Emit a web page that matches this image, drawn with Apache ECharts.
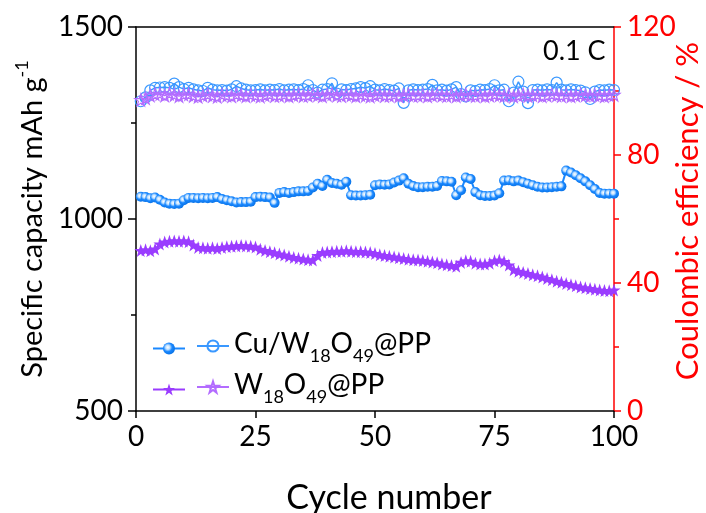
<!DOCTYPE html>
<html>
<head>
<meta charset="utf-8">
<script src="https://cdn.jsdelivr.net/npm/echarts@6/dist/echarts.min.js"></script>
<style>
html, body { margin: 0; padding: 0; background: #fff; }
#chart { width: 706px; height: 513px; }
</style>
</head>
<body>
<div id="chart"></div>
<script>
// capacity, mAh g-1, cycles 1..100
var cuCapacity = [
  1058, 1057, 1054, 1056, 1050, 1043, 1040, 1039, 1040, 1049,
  1055, 1055, 1054, 1055, 1054, 1055, 1057, 1052, 1049, 1046,
  1043, 1044, 1044, 1045, 1057, 1058, 1057, 1056, 1042, 1068,
  1070, 1068, 1070, 1072, 1072, 1073, 1082, 1092, 1086, 1102,
  1094, 1092, 1089, 1097, 1062, 1061, 1061, 1062, 1063, 1088,
  1090, 1089, 1090, 1095, 1100, 1106, 1092, 1086, 1083, 1083,
  1084, 1084, 1086, 1099, 1098, 1097, 1062, 1075, 1108, 1104,
  1070, 1062, 1060, 1060, 1061, 1067, 1100, 1101, 1098, 1100,
  1096, 1092, 1088, 1084, 1082, 1082, 1083, 1084, 1085, 1126,
  1121, 1114, 1106, 1098, 1088, 1078, 1068, 1066, 1066, 1066
];
var wCapacity = [
  918, 920, 917, 922, 935, 940, 942, 943, 942, 943,
  941, 932, 926, 925, 924, 925, 923, 926, 928, 929,
  930, 931, 930, 929, 927, 921, 918, 915, 912, 909,
  906, 903, 900, 898, 896, 894, 893, 905, 913, 914,
  915, 916, 916, 917, 916, 915, 915, 914, 913, 910,
  907, 905, 903, 901, 899, 897, 895, 894, 893, 892,
  890, 888, 886, 883, 881, 879, 877, 887, 891, 890,
  885, 883, 883, 885, 891, 893, 889, 880, 868, 864,
  861, 858, 855, 852, 849, 845, 842, 838, 835, 832,
  829, 826, 823, 821, 819, 817, 815, 814, 813, 815
];
// coulombic efficiency, %
var cuEfficiency = [
  96.8, 98.0, 100.2, 101.0, 101.1, 101.2, 101.0, 102.3, 101.2, 100.6,
  101.0, 100.5, 100.2, 100.0, 101.0, 100.4, 100.2, 100.3, 100.1, 100.5,
  101.5, 100.8, 100.4, 100.2, 100.3, 100.5, 100.2, 100.4, 100.3, 100.6,
  100.2, 100.4, 100.5, 100.3, 100.6, 101.8, 100.3, 99.5, 100.4, 100.6,
  102.4, 99.2, 100.5, 100.3, 100.6, 100.8, 101.2, 100.9, 101.5, 100.4,
  100.2, 100.6, 100.3, 100.1, 100.8, 96.3, 100.2, 100.5, 100.3, 100.4,
  100.6, 101.9, 100.2, 100.4, 100.1, 100.5, 101.2, 99.0, 98.3, 100.2,
  100.0, 100.4, 100.3, 100.6, 101.8, 100.2, 100.4, 96.8, 99.5, 102.9,
  99.8, 96.2, 100.3, 100.4, 100.2, 100.5, 100.3, 102.6, 100.4, 100.2,
  100.5, 100.3, 100.1, 99.6, 97.5, 99.8, 100.3, 100.2, 100.4, 100.3
];
var wEfficiency = [
  97.2, 97.8, 98.6, 99.0, 99.1, 98.6, 99.2, 98.8, 98.4, 98.9,
  99.0, 98.5, 98.2, 98.6, 98.9, 98.5, 98.2, 98.8, 98.6, 98.4,
  98.9, 98.7, 98.4, 98.8, 98.6, 98.3, 98.7, 98.9, 98.5, 98.6,
  98.8, 98.4, 98.7, 98.9, 98.5, 98.6, 99.0, 98.7, 98.4, 98.8,
  99.1, 98.6, 98.5, 98.9, 98.7, 98.4, 98.8, 98.6, 98.3, 98.7,
  98.9, 98.5, 98.6, 98.8, 98.4, 98.7, 98.9, 98.5, 98.6, 98.8,
  98.4, 98.7, 98.9, 98.6, 98.5, 98.8, 98.4, 98.7, 98.9, 98.6,
  98.5, 98.8, 98.4, 98.6, 98.9, 98.7, 98.5, 98.8, 98.3, 98.6,
  98.9, 98.5, 98.7, 98.8, 98.4, 98.6, 98.9, 98.7, 98.5, 98.8,
  98.4, 98.6, 98.9, 98.7, 98.5, 98.8, 98.6, 98.4, 98.7, 98.8
];
var xTicks = [0, 25, 50, 75, 100];

function pairs(vals) {
  return vals.map(function (v, i) { return [i + 1, v]; });
}
function plain(v) { return String(v); }

var FONT = 'Lato';
var STAR = 'path://M50,0 L61.8,35.3 L98.5,35.3 L68.8,57.1 L79.9,92.1 L50,70.5 L20.1,92.1 L31.2,57.1 L1.5,35.3 L38.2,35.3 Z';
var BLUE = '#1a88ff';
var PURPLE = '#9a3cff';

var ballFill = {
  type: 'radial', x: 0.4, y: 0.4, r: 0.6,
  colorStops: [
    {offset: 0, color: '#ffffff'},
    {offset: 0.3, color: '#bfe0ff'},
    {offset: 0.6, color: BLUE},
    {offset: 1, color: '#0a74e8'}
  ]
};

var legendRich = {
  n: {fontFamily: FONT, fontSize: 28, color: '#000', lineHeight: 32, verticalAlign: 'top'},
  s: {fontFamily: FONT, fontSize: 18, color: '#000', lineHeight: 18, verticalAlign: 'top', padding: [17, 0, 0, 0]}
};
function legendText(name) {
  if (name === 'cuCE') return '{n|Cu/W}{s|18}{n|O}{s|49}{n|@PP}';
  return '{n|W}{s|18}{n|O}{s|49}{n|@PP}';
}

var myChart = echarts.init(document.getElementById('chart'));
var option = {
  animation: false,
  grid: {left: 136, right: 92, top: 27, bottom: 102, outerBoundsMode: 'none', containLabel: false},
  legend: [
    {data: ['cuCap'], left: 147, top: 336, itemWidth: 32, itemHeight: 15, formatter: function () { return ''; }, selectedMode: false},
    {data: ['wCap'], left: 147, top: 377, itemWidth: 32, itemHeight: 15, formatter: function () { return ''; }, selectedMode: false},
    {data: ['cuCE'], left: 191, top: 325, itemWidth: 32, itemHeight: 14, itemGap: 6, formatter: legendText, textStyle: {rich: legendRich}, selectedMode: false},
    {data: ['wCE'], left: 191, top: 366, itemWidth: 32, itemHeight: 14, itemGap: 6, formatter: legendText, textStyle: {rich: legendRich}, selectedMode: false}
  ],
  graphic: [{
    type: 'text', left: 543, top: 38,
    style: {text: '0.1 C', font: '27px Lato', fill: '#000'}
  }],
  xAxis: [{
    type: 'value', min: 0, max: 100, interval: 25,
    name: 'Cycle number', nameLocation: 'middle', nameGap: 70, nameMoveOverlap: false,
    nameTextStyle: {fontFamily: FONT, fontSize: 34, color: '#000', padding: [0, 0, 0, 28]},
    axisLine: {onZero: false, lineStyle: {color: '#000', width: 1.5}},
    axisTick: {show: true, length: 7, lineStyle: {color: '#000', width: 1.5}, customValues: xTicks},
    axisLabel: {fontFamily: FONT, fontSize: 28, color: '#000', margin: 12, customValues: xTicks, formatter: plain},
    splitLine: {show: false}
  }, {
    type: 'value', min: 0, max: 100, position: 'top',
    axisLine: {show: true, onZero: false, lineStyle: {color: '#000', width: 1.5}},
    axisTick: {show: false}, axisLabel: {show: false}, splitLine: {show: false}
  }],
  yAxis: [{
    type: 'value', min: 500, max: 1500, interval: 500, position: 'left',
    name: '{n|Specific capacity mAh g}{sup|-1}', nameLocation: 'middle', nameGap: 89, nameRotate: 90, nameMoveOverlap: false,
    nameTextStyle: {
      rich: {
        n: {fontFamily: FONT, fontSize: 29, color: '#000', lineHeight: 34, verticalAlign: 'bottom'},
        sup: {fontFamily: FONT, fontSize: 18, color: '#000', lineHeight: 18, verticalAlign: 'top'}
      }
    },
    axisLine: {show: true, onZero: false, lineStyle: {color: '#000', width: 1.5}},
    axisTick: {show: true, length: 8, lineStyle: {color: '#000', width: 1.5}},
    minorTick: {show: true, splitNumber: 2, length: 5, lineStyle: {color: '#000', width: 1.5}},
    axisLabel: {fontFamily: FONT, fontSize: 28, color: '#000', margin: 13, formatter: plain},
    splitLine: {show: false}
  }, {
    type: 'value', min: 0, max: 120, interval: 40, position: 'right',
    name: 'Coulombic efficiency / %', nameLocation: 'middle', nameGap: 58, nameRotate: 90, nameMoveOverlap: false,
    nameTextStyle: {fontFamily: FONT, fontSize: 31, color: '#ff0000', padding: [0, 0, 0, 16]},
    axisLine: {show: true, onZero: false, lineStyle: {color: '#ff0000', width: 1.5}},
    axisTick: {show: true, length: 7, lineStyle: {color: '#ff0000', width: 1.5}},
    minorTick: {show: true, splitNumber: 2, length: 5, lineStyle: {color: '#ff0000', width: 1.5}},
    axisLabel: {fontFamily: FONT, fontSize: 28, color: '#ff0000', margin: 13, formatter: plain},
    splitLine: {show: false}
  }],
  series: [
    {
      name: 'cuCE', type: 'line', yAxisIndex: 1, data: pairs(cuEfficiency),
      symbol: 'circle', symbolSize: 11,
      itemStyle: {color: 'rgba(255,255,255,0)', borderColor: '#3a98ff', borderWidth: 1.2},
      lineStyle: {color: '#3a98ff', width: 1.5}
    },
    {
      name: 'wCE', type: 'line', yAxisIndex: 1, data: pairs(wEfficiency),
      symbol: STAR, symbolSize: 12,
      itemStyle: {color: 'rgba(255,255,255,0)', borderColor: '#b36cff', borderWidth: 1.2},
      lineStyle: {color: '#b36cff', width: 1.5}
    },
    {
      name: 'cuCap', type: 'line', yAxisIndex: 0, data: pairs(cuCapacity),
      symbol: 'circle', symbolSize: 10,
      itemStyle: {color: ballFill},
      lineStyle: {color: BLUE, width: 2}
    },
    {
      name: 'wCap', type: 'line', yAxisIndex: 0, data: pairs(wCapacity),
      symbol: STAR, symbolSize: 13,
      itemStyle: {color: PURPLE},
      lineStyle: {color: PURPLE, width: 2}
    }
  ]
};
myChart.setOption(option);
</script>
</body>
</html>
